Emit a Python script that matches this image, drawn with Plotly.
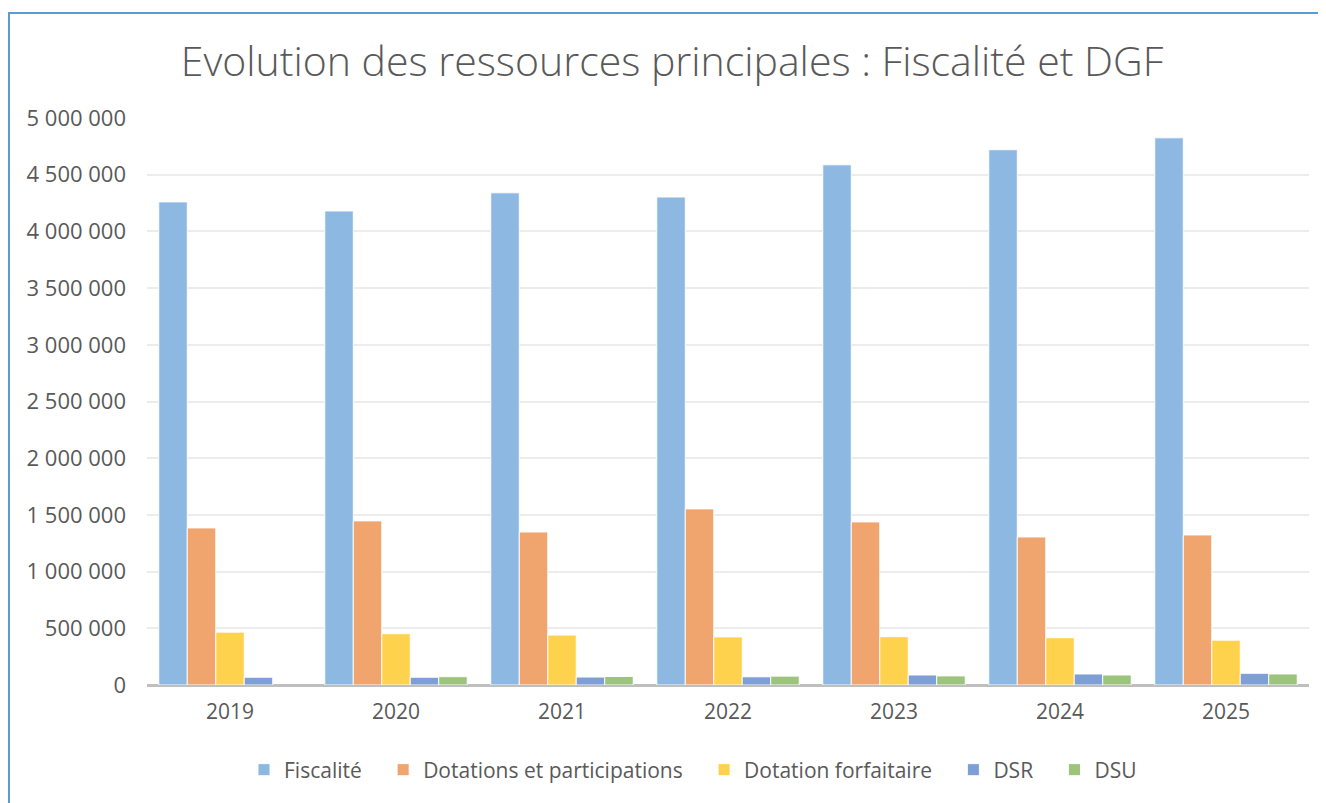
import plotly.graph_objects as go

years = ["2019", "2020", "2021", "2022", "2023", "2024", "2025"]
fiscalite = [4260000, 4180000, 4340000, 4303000, 4587000, 4720000, 4825000]
dotations = [1385000, 1447000, 1349000, 1553000, 1438000, 1305000, 1323000]
forfaitaire = [466000, 452000, 440000, 424000, 426000, 417000, 395000]
dsr = [68000, 68000, 70000, 72000, 88000, 97000, 103000]
dsu = [None, 73000, 75000, 78000, 80000, 88000, 97000]

series_names = ["Fiscalité", "Dotations et participations", "Dotation forfaitaire", "DSR", "DSU"]
series_values = [fiscalite, dotations, forfaitaire, dsr, dsu]
colors = ["#8db8e2", "#f0a46e", "#ffd24e", "#7e9fd6", "#9cc47d"]

FONT = "Open Sans"
GRAY = "#595959"
PAD = "\u00a0\u00a0\u00a0"

fig = go.Figure()
for i, (name, vals, col) in enumerate(zip(series_names, series_values, colors)):
    label = name + (PAD if i < len(series_names) - 1 else "")
    fig.add_trace(go.Bar(
        x=years, y=vals, name=label,
        marker=dict(color=col, line=dict(color="rgba(255,255,255,0.9)", width=1)),
        hovertemplate="%{x}: %{y:,d}<extra>" + name + "</extra>",
    ))

# page is offset by 8px (body margin); work in reference coords minus 8
OFF = 8
W, H = 1326 - OFF, 803 - OFF
L, R, T, B = 147 - OFF, 17, 118 - OFF, 118
pw = W - L - R
ph = H - T - B

def px(x):
    return (x - OFF - L) / pw

def py(y):
    return (H - B - (y - OFF)) / ph

fig.update_layout(
    width=W, height=H,
    margin=dict(l=L, r=R, t=T, b=B),
    paper_bgcolor="white", plot_bgcolor="white",
    separators=", ",
    barmode="group", bargap=0.142, bargroupgap=0,
    title=dict(
        text="Evolution des ressources principales : Fiscalité et DGF",
        xref="container", x=(672 - OFF) / W, xanchor="center",
        yref="container", y=1 - (62 - OFF) / H, yanchor="middle",
        font=dict(family=FONT, size=41, color=GRAY, weight=300),
    ),
    font=dict(family=FONT, color=GRAY, size=20),
    xaxis=dict(
        showgrid=False, showline=False, ticks="",
        ticklabelstandoff=12,
        tickfont=dict(family=FONT, size=21, color=GRAY),
    ),
    yaxis=dict(
        range=[0, 5000000], dtick=500000, tickformat=",d",
        showgrid=True, gridcolor="#ececec", gridwidth=1.5,
        zeroline=True, zerolinecolor="#bfbfbf", zerolinewidth=3,
        showline=False, ticks="", ticklabelstandoff=20,
        tickfont=dict(family=FONT, size=22, color=GRAY),
    ),
    legend=dict(
        orientation="h", x=px(693), xanchor="center", y=py(770), yanchor="middle",
        font=dict(family=FONT, size=21, color=GRAY),
        traceorder="normal", itemwidth=30,
    ),
    shapes=[
        dict(type="line", xref="paper", yref="paper",
             x0=px(9), x1=px(9), y0=py(810), y1=py(13),
             line=dict(color="#5b9bd5", width=2)),
        dict(type="line", xref="paper", yref="paper",
             x0=px(8), x1=px(1326), y0=py(13), y1=py(13),
             line=dict(color="#5b9bd5", width=2)),
    ],
)

fig.write_html("out.html")
